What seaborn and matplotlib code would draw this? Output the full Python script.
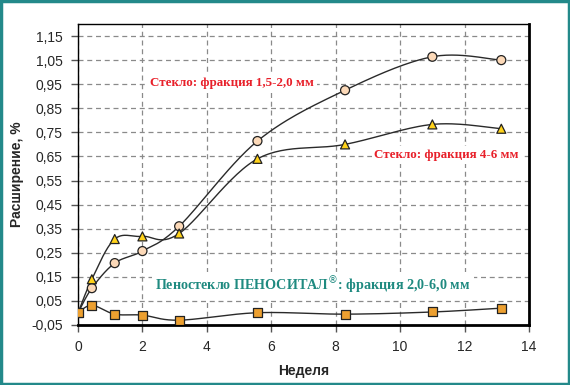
import numpy as np
import pandas as pd
import matplotlib
matplotlib.use('Agg')
import matplotlib.pyplot as plt
import seaborn as sns
from matplotlib.patches import Rectangle

# недели испытаний
weeks = [0, 0.43, 1.14, 2.0, 3.14, 5.57, 8.29, 11.0, 13.14]

# расширение, %
glass_fine = [0.0, 0.103, 0.207, 0.257, 0.36, 0.714, 0.925, 1.064, 1.05]     # Стекло: фракция 1,5-2,0 мм
glass_coarse = [0.0, 0.14, 0.307, 0.318, 0.33, 0.64, 0.70, 0.783, 0.765]     # Стекло: фракция 4-6 мм
foam_glass = [0.0, 0.032, -0.005, -0.009, -0.03, 0.001, -0.005, 0.004, 0.02]  # Пеностекло

yticks = [-0.05, 0.05, 0.15, 0.25, 0.35, 0.45, 0.55, 0.65, 0.75, 0.85, 0.95, 1.05, 1.15]
xticks = [0, 2, 4, 6, 8, 10, 12, 14]


def smooth(x, y, n=30):
    # сглаживание как в Excel (кривая Катмулла-Рома через точки)
    x = np.asarray(x, float)
    y = np.asarray(y, float)
    px = np.concatenate([[x[0]], x, [x[-1]]])
    py = np.concatenate([[y[0]], y, [y[-1]]])
    xs, ys = [], []
    t = np.linspace(0, 1, n)
    for i in range(1, len(px) - 2):
        p0 = np.array([px[i], py[i]])
        p3 = np.array([px[i + 1], py[i + 1]])
        p1 = p0 + (p3 - np.array([px[i - 1], py[i - 1]])) / 6
        p2 = p3 - (np.array([px[i + 2], py[i + 2]]) - p0) / 6
        b = ((1 - t) ** 3)[:, None] * p0 + (3 * (1 - t) ** 2 * t)[:, None] * p1 \
            + (3 * (1 - t) * t ** 2)[:, None] * p2 + (t ** 3)[:, None] * p3
        xs.extend(b[:, 0])
        ys.extend(b[:, 1])
    return xs, ys


df = pd.DataFrame({
    'week': weeks * 3,
    'value': glass_fine + glass_coarse + foam_glass,
    'series': ['fine'] * len(weeks) + ['coarse'] * len(weeks) + ['foam'] * len(weeks),
})

sns.set_style('white')
plt.rcParams['font.family'] = ['Liberation Sans', 'DejaVu Sans']

fig = plt.figure(figsize=(5.7, 3.85), dpi=100)
ax = fig.add_axes([78 / 570, 1 - 325 / 385, (529 - 78) / 570, (325 - 24) / 385])

for vals in (glass_fine, glass_coarse, foam_glass):
    sx, sy = smooth(weeks, vals)
    ax.plot(sx, sy, color='#2a2a2a', lw=1.0, zorder=3)

sns.scatterplot(
    data=df, x='week', y='value', hue='series', style='series',
    markers={'fine': 'o', 'coarse': '^', 'foam': 's'},
    palette={'fine': '#fcd9b8', 'coarse': '#ffd21a', 'foam': '#eda030'},
    s=42, edgecolor='#222222', linewidth=0.9, legend=False, zorder=4, ax=ax
)

ax.set_xlim(0, 14)
ax.set_ylim(-0.05, 1.20)
ax.set_xticks(xticks)
ax.set_yticks(yticks)
ax.set_yticklabels([f'{v:.2f}'.replace('.', ',') for v in yticks])
ax.tick_params(axis='both', labelsize=10, length=5, width=1, direction='out',
               left=True, bottom=True, color='#555555', pad=6)
ax.grid(True, color='#8a8a8a', linestyle=(0, (4, 3)), linewidth=0.9)
ax.set_axisbelow(True)
for side in ('left', 'top'):
    ax.spines[side].set_linewidth(1.0)
for side in ('right', 'bottom'):
    ax.spines[side].set_linewidth(2.0)
for sp in ax.spines.values():
    sp.set_color('black')

ax.set_xlabel('Неделя', fontsize=10, fontweight='bold', labelpad=7)
ax.set_ylabel('Расширение, %', fontsize=10, fontweight='bold', labelpad=5)

serif = ['Liberation Serif', 'DejaVu Serif']
box = dict(facecolor='white', edgecolor='none', pad=2.0)
ax.text(2.25, 0.955, 'Стекло: фракция 1,5-2,0 мм', color='#e8202a', fontsize=9.4,
        fontweight='bold', family=serif, va='center', ha='left', zorder=5, bbox=box)
ax.text(9.2, 0.655, 'Стекло: фракция 4-6 мм', color='#e8202a', fontsize=9.4,
        fontweight='bold', family=serif, va='center', ha='left', zorder=5, bbox=box)
ax.text(2.4, 0.113, 'Пеностекло ПЕНОСИТАЛ$^{®}$: фракция 2,0-6,0 мм', color='#1f8a80',
        fontsize=10.2, fontweight='bold', family=serif, va='center', ha='left', zorder=5,
        bbox=dict(facecolor='white', edgecolor='none', pad=2.5))

fig.patches.append(Rectangle((0.002, 0.003), 0.996, 0.994, transform=fig.transFigure,
                             fill=False, edgecolor='#23898a', linewidth=2.5))

fig.savefig('out.png', dpi=100)
